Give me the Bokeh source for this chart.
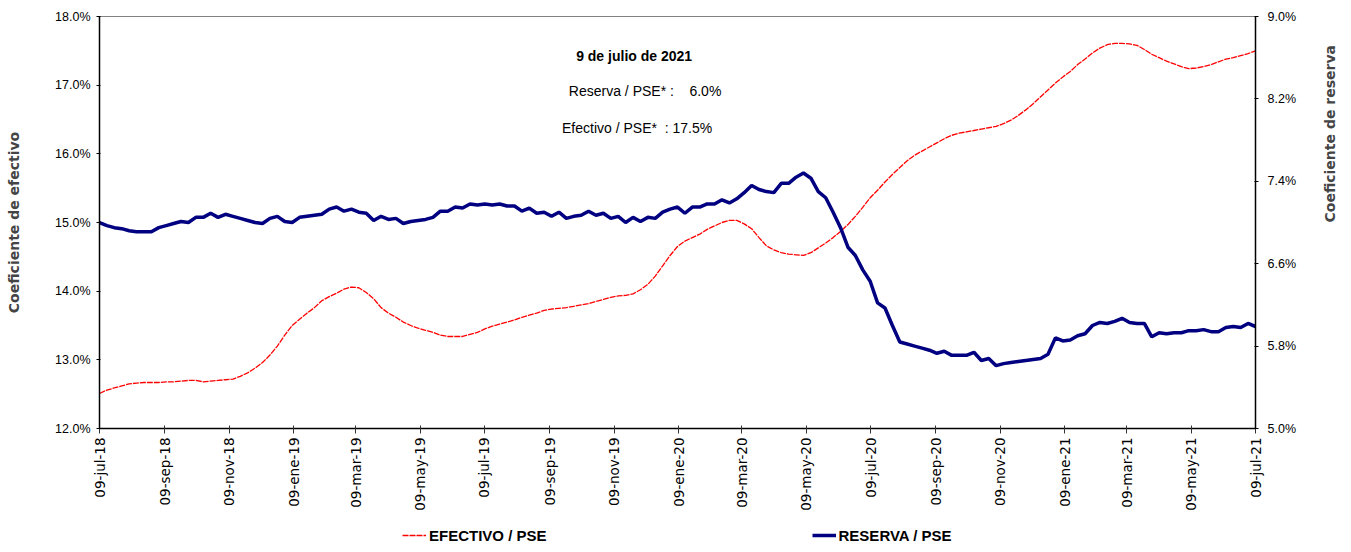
import math
import pandas as pd
from bokeh.plotting import figure
from bokeh.layouts import column
from bokeh.models import (Range1d, LinearAxis, FixedTicker, PrintfTickFormatter,
                          Legend, LegendItem, Label)
from bokeh.embed import file_html
from bokeh.resources import INLINE

# ---------------- data ----------------
start_date = "2018-07-09"
end_date = "2021-07-09"

efectivo = [
    12.51, 12.56, 12.59, 12.62, 12.65, 12.66, 12.67, 12.67, 12.67, 12.68,
    12.68, 12.69, 12.70, 12.70, 12.68, 12.69, 12.70, 12.71, 12.72, 12.76,
    12.81, 12.88, 12.96, 13.07, 13.20, 13.36, 13.50, 13.59, 13.68, 13.76,
    13.86, 13.92, 13.97, 14.03, 14.06, 14.05, 13.98, 13.89, 13.76, 13.68,
    13.62, 13.55, 13.50, 13.46, 13.43, 13.40, 13.36, 13.34, 13.34, 13.34,
    13.37, 13.40, 13.45, 13.49, 13.52, 13.55, 13.58, 13.62, 13.65, 13.68,
    13.72, 13.74, 13.75, 13.76, 13.78, 13.80, 13.82, 13.85, 13.88, 13.91,
    13.93, 13.94, 13.96, 14.02, 14.10, 14.22, 14.37, 14.52, 14.65, 14.73,
    14.78, 14.83, 14.90, 14.95, 15.00, 15.03, 15.03, 14.98, 14.91, 14.78,
    14.66, 14.60, 14.56, 14.54, 14.53, 14.52, 14.56, 14.63, 14.70, 14.78,
    14.87, 14.97, 15.09, 15.22, 15.36, 15.47, 15.59, 15.70, 15.80, 15.90,
    15.98, 16.04, 16.10, 16.16, 16.22, 16.27, 16.30, 16.32, 16.34, 16.36,
    16.38, 16.40, 16.44, 16.49, 16.56, 16.64, 16.73, 16.83, 16.93, 17.03,
    17.12, 17.20, 17.30, 17.38, 17.47, 17.54, 17.59, 17.61, 17.61, 17.60,
    17.58, 17.52, 17.45, 17.40, 17.35, 17.31, 17.27, 17.24, 17.25, 17.27,
    17.30, 17.34, 17.38, 17.40, 17.43, 17.46, 17.50,
]

reserva = [
    7.00, 6.97, 6.95, 6.94, 6.92, 6.91, 6.91, 6.91, 6.95, 6.97,
    6.99, 7.01, 7.00, 7.05, 7.05, 7.09, 7.05, 7.08, 7.06, 7.04,
    7.02, 7.00, 6.99, 7.04, 7.06, 7.01, 7.00, 7.05, 7.06, 7.07,
    7.08, 7.13, 7.15, 7.11, 7.13, 7.10, 7.09, 7.02, 7.06, 7.03,
    7.04, 6.99, 7.01, 7.02, 7.03, 7.05, 7.11, 7.11, 7.15, 7.14,
    7.18, 7.17, 7.18, 7.17, 7.18, 7.16, 7.16, 7.11, 7.14, 7.09,
    7.10, 7.06, 7.10, 7.04, 7.06, 7.07, 7.11, 7.07, 7.09, 7.04,
    7.06, 7.00, 7.05, 7.01, 7.05, 7.04, 7.10, 7.13, 7.15, 7.09,
    7.15, 7.15, 7.18, 7.18, 7.22, 7.19, 7.23, 7.29, 7.36, 7.32,
    7.30, 7.29, 7.38, 7.38, 7.44, 7.48, 7.43, 7.30, 7.24, 7.10,
    6.95, 6.76, 6.68, 6.54, 6.43, 6.22, 6.17, 6.00, 5.84, 5.82,
    5.80, 5.78, 5.76, 5.73, 5.75, 5.71, 5.71, 5.71, 5.74, 5.66,
    5.68, 5.61, 5.63, 5.64, 5.65, 5.66, 5.67, 5.68, 5.72, 5.88,
    5.85, 5.86, 5.90, 5.92, 6.00, 6.03, 6.02, 6.04, 6.07, 6.03,
    6.02, 6.02, 5.89, 5.93, 5.92, 5.93, 5.93, 5.95, 5.95, 5.96,
    5.94, 5.94, 5.98, 5.99, 5.98, 6.02, 5.99,
]

tick_dates = [
    "2018-07-09", "2018-09-09", "2018-11-09", "2019-01-09", "2019-03-09",
    "2019-05-09", "2019-07-09", "2019-09-09", "2019-11-09", "2020-01-09",
    "2020-03-09", "2020-05-09", "2020-07-09", "2020-09-09", "2020-11-09",
    "2021-01-09", "2021-03-09", "2021-05-09", "2021-07-09",
]
tick_labels = [
    "09-jul-18", "09-sep-18", "09-nov-18", "09-ene-19", "09-mar-19",
    "09-may-19", "09-jul-19", "09-sep-19", "09-nov-19", "09-ene-20",
    "09-mar-20", "09-may-20", "09-jul-20", "09-sep-20", "09-nov-20",
    "09-ene-21", "09-mar-21", "09-may-21", "09-jul-21",
]
left_ticks = [12, 13, 14, 15, 16, 17, 18]
right_ticks = [5.0, 5.8, 6.6, 7.4, 8.2, 9.0]

series_names = ["EFECTIVO / PSE", "RESERVA / PSE"]
title_text = "9 de julio de 2021"
reserva_text = "Reserva / PSE* :\u00a0\u00a0\u00a0 6.0%"
efectivo_text = "Efectivo / PSE*\u00a0 : 17.5%"

# ---------------- styles ----------------
RED = dict(line_color="#FF0000", line_width=1.3, line_dash="6 1")
BLUE = dict(line_color="#000080", line_width=3.5)
SANS = "Liberation Sans"

# ---------------- build ----------------
dates = pd.date_range(start=start_date, end=end_date, periods=len(efectivo))


def ms(d):
    return float(pd.Timestamp(d).value // 10**6)


tick_ms = [ms(d) for d in tick_dates]

p = figure(width=1348, height=520, x_axis_type="datetime",
           x_range=Range1d(ms(start_date), ms(end_date)),
           y_range=Range1d(12, 18),
           output_backend="svg", toolbar_location=None,
           min_border_left=99, min_border_right=90,
           min_border_top=16, min_border_bottom=92,
           background_fill_color="white", border_fill_color="white")
p.extra_y_ranges = {"res": Range1d(5, 9)}
p.grid.visible = False
p.outline_line_color = "#808080"
p.outline_line_width = 1

r1 = p.line(dates, efectivo, **RED)
r2 = p.line(dates, reserva, y_range_name="res", **BLUE)

# x axis
xa = p.xaxis[0]
xa.ticker = FixedTicker(ticks=tick_ms)
xa.major_label_overrides = dict(zip(tick_ms, tick_labels))
xa.major_label_orientation = math.pi / 2
xa.major_label_text_font = "DejaVu Sans"
xa.major_label_text_font_size = "13.5px"
xa.major_label_text_color = "black"
xa.major_label_standoff = 4
xa.minor_tick_line_color = None
xa.major_tick_in = 3
xa.major_tick_out = 5
xa.major_tick_line_color = "#333333"
xa.axis_line_color = "black"
xa.axis_line_width = 1.5

# left axis
ya = p.yaxis[0]
ya.ticker = FixedTicker(ticks=left_ticks)
ya.formatter = PrintfTickFormatter(format="%.1f%%")
ya.axis_label = "Coeficiente de efectivo"
ya.axis_label_text_font = "DejaVu Sans"
ya.axis_label_text_font_style = "bold"
ya.axis_label_text_font_size = "14px"
ya.axis_label_standoff = 30
ya.major_label_text_font = SANS
ya.major_label_text_font_size = "12.5px"
ya.major_label_text_color = "black"
ya.major_label_standoff = 6
ya.major_tick_in = 1
ya.major_tick_out = 3
ya.minor_tick_line_color = None
ya.axis_line_color = "black"
ya.axis_line_width = 1.5

# right axis
ra = LinearAxis(y_range_name="res", ticker=FixedTicker(ticks=right_ticks),
                formatter=PrintfTickFormatter(format="%.1f%%"),
                axis_label="Coeficiente de reserva")
ra.axis_label_text_font = "DejaVu Sans"
ra.axis_label_text_font_style = "bold"
ra.axis_label_text_font_size = "14px"
ra.axis_label_standoff = 31
ra.major_label_text_font = SANS
ra.major_label_text_font_size = "12.5px"
ra.major_label_text_color = "black"
ra.major_label_standoff = 9
ra.major_tick_in = 1
ra.major_tick_out = 3
ra.minor_tick_line_color = None
ra.axis_line_color = "black"
ra.axis_line_width = 1.5
try:
    ra.axis_label_orientation = math.pi / 2
except Exception:
    pass
p.add_layout(ra, "right")

# annotations
base = pd.Timestamp(start_date)
span_days = (pd.Timestamp(end_date) - base).days
frame_px = 1159.0


def xpos(px):
    return ms(base + pd.Timedelta(days=px / frame_px * span_days))


p.add_layout(Label(x=xpos(536), y=17.43, text=title_text, text_align="center",
                   text_baseline="middle", text_font=SANS, text_font_style="bold",
                   text_font_size="14px", text_color="black"))
p.add_layout(Label(x=xpos(547), y=16.91, text=reserva_text, text_align="center",
                   text_baseline="middle", text_font=SANS,
                   text_font_size="14px", text_color="black"))
p.add_layout(Label(x=xpos(539), y=16.38, text=efectivo_text, text_align="center",
                   text_baseline="middle", text_font=SANS,
                   text_font_size="14px", text_color="black"))

# legend strip (separate figure under the chart; its ranges keep the series out of view)
lg = figure(width=1348, height=26, x_range=Range1d(0, 1), y_range=Range1d(0, 1),
            output_backend="svg", toolbar_location=None,
            min_border_left=0, min_border_right=0, min_border_top=0,
            min_border_bottom=0, outline_line_color=None,
            background_fill_color="white", border_fill_color="white")
lg.axis.visible = False
lg.grid.visible = False
l1 = lg.line(list(range(len(efectivo))), efectivo, **RED)
l2 = lg.line(list(range(len(reserva))), reserva, **BLUE)
legend = Legend(items=[LegendItem(label=series_names[0], renderers=[l1]),
                       LegendItem(label=series_names[1], renderers=[l2])],
                orientation="horizontal", location=(303, 1), spacing=265,
                glyph_width=24, glyph_height=20, label_standoff=3,
                border_line_color=None, background_fill_alpha=0,
                padding=0, margin=0,
                label_text_font=SANS, label_text_font_style="bold",
                label_text_font_size="15px", label_text_color="black")
lg.add_layout(legend, "center")

layout = column(p, lg, spacing=0)
open("out.html", "w").write(file_html(layout, INLINE))
